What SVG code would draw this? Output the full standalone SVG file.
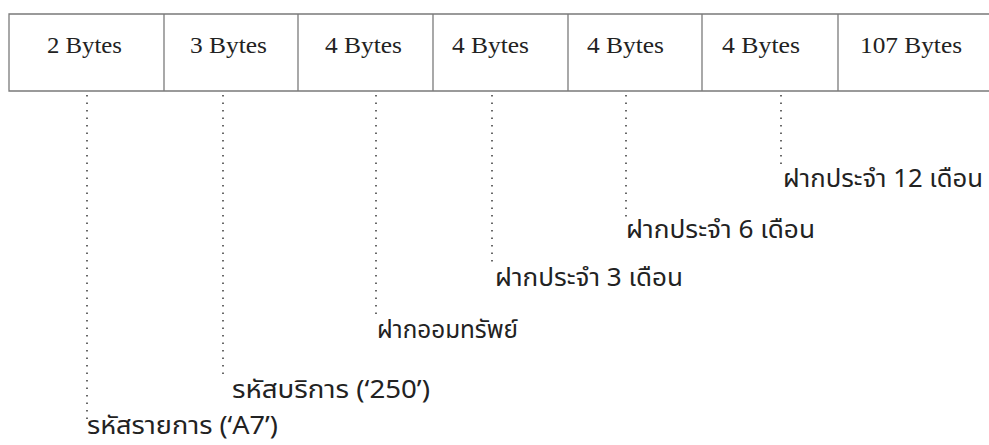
<svg xmlns="http://www.w3.org/2000/svg" width="989" height="445" viewBox="0 0 989 445">
<style>
.box{fill:none;stroke:#7a7a7a;stroke-width:1.3}
.div{stroke:#7a7a7a;stroke-width:1.3}
.dot{stroke:#444;stroke-width:1.6;stroke-dasharray:1.5 6;fill:none}
.b{font-family:"Liberation Serif","Times New Roman",serif;font-size:24px;fill:#222}
.t{font-family:"Noto Sans Thai","Noto Serif Thai","Liberation Serif",sans-serif;font-size:25px;fill:#222}
</style>
<rect width="989" height="445" fill="#ffffff"/>
<g id="record">
  <path class="box" d="M989,14 H9 V91 H989"/>
  <line class="div" x1="164" y1="14" x2="164" y2="91"/>
  <line class="div" x1="298" y1="14" x2="298" y2="91"/>
  <line class="div" x1="433" y1="14" x2="433" y2="91"/>
  <line class="div" x1="568" y1="14" x2="568" y2="91"/>
  <line class="div" x1="702" y1="14" x2="702" y2="91"/>
  <line class="div" x1="838" y1="14" x2="838" y2="91"/>
</g>
<g id="field1"><text class="b" x="47" y="53" textLength="75" lengthAdjust="spacingAndGlyphs">2 Bytes</text></g>
<g id="field2"><text class="b" x="190" y="53" textLength="77" lengthAdjust="spacingAndGlyphs">3 Bytes</text></g>
<g id="field3"><text class="b" x="325" y="53" textLength="77" lengthAdjust="spacingAndGlyphs">4 Bytes</text></g>
<g id="field4"><text class="b" x="452" y="53" textLength="77" lengthAdjust="spacingAndGlyphs">4 Bytes</text></g>
<g id="field5"><text class="b" x="587" y="53" textLength="77" lengthAdjust="spacingAndGlyphs">4 Bytes</text></g>
<g id="field6"><text class="b" x="722" y="53" textLength="78" lengthAdjust="spacingAndGlyphs">4 Bytes</text></g>
<g id="field7"><text class="b" x="860" y="53" textLength="102" lengthAdjust="spacingAndGlyphs">107 Bytes</text></g>
<g id="connectors">
  <line class="dot" x1="87" y1="95" x2="87" y2="422"/>
  <line class="dot" x1="223" y1="95" x2="223" y2="380"/>
  <line class="dot" x1="376" y1="95" x2="376" y2="320"/>
  <line class="dot" x1="492" y1="95" x2="492" y2="266"/>
  <line class="dot" x1="626" y1="95" x2="626" y2="221"/>
  <line class="dot" x1="781" y1="95" x2="781" y2="170"/>
</g>
<g id="label1"><text class="t" x="87" y="434" textLength="191" lengthAdjust="spacingAndGlyphs">รหัสรายการ (‘A7’)</text></g>
<g id="label2"><text class="t" x="232" y="398" textLength="198" lengthAdjust="spacingAndGlyphs">รหัสบริการ (‘250’)</text></g>
<g id="label3"><text class="t" x="377" y="338" textLength="141" lengthAdjust="spacingAndGlyphs">ฝากออมทรัพย์</text></g>
<g id="label4"><text class="t" x="495" y="286" textLength="188" lengthAdjust="spacingAndGlyphs">ฝากประจำ 3 เดือน</text></g>
<g id="label5"><text class="t" x="626" y="238" textLength="189" lengthAdjust="spacingAndGlyphs">ฝากประจำ 6 เดือน</text></g>
<g id="label6"><text class="t" x="783" y="187" textLength="200" lengthAdjust="spacingAndGlyphs">ฝากประจำ 12 เดือน</text></g>
</svg>
